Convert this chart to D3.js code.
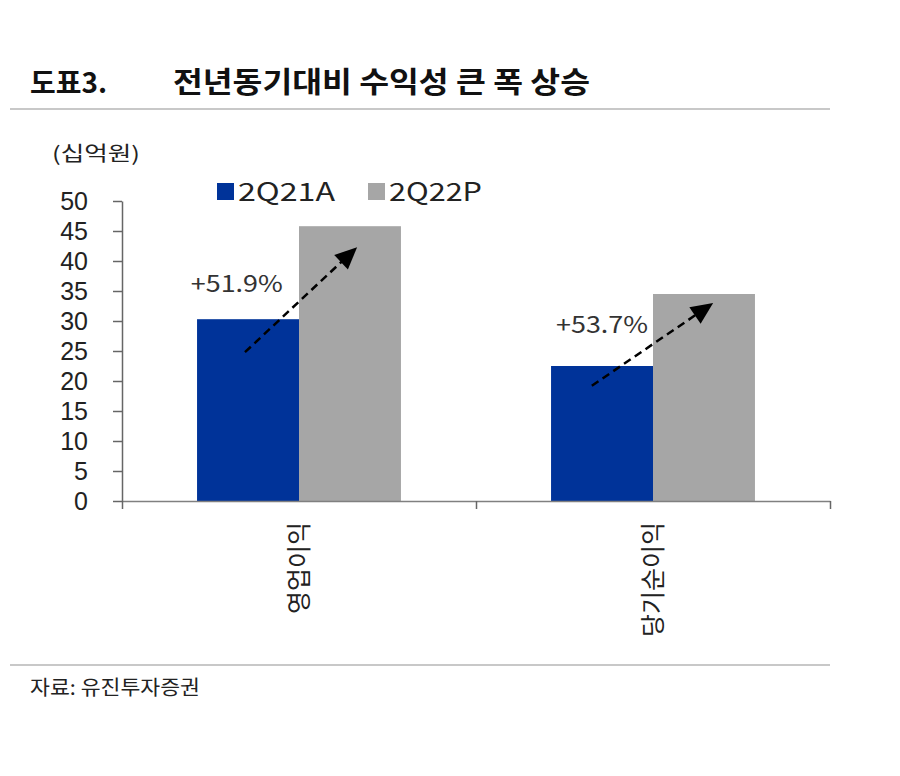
<!DOCTYPE html>
<html>
<head>
<meta charset="utf-8">
<script src="https://cdn.jsdelivr.net/npm/d3@7"></script>
<style>
  html, body { margin: 0; padding: 0; background: #fff; }
  svg { display: block; font-family: "Noto Sans CJK KR", "Noto Sans", sans-serif; }
</style>
</head>
<body>
<svg id="chart" width="900" height="776"></svg>
<script>
// ---- data ----
const categories = ["영업이익", "당기순이익"];
const seriesNames = ["2Q21A", "2Q22P"];
const values2Q21A = [30.3, 22.5];
const values2Q22P = [45.8, 34.5];
const yTicks = [0, 5, 10, 15, 20, 25, 30, 35, 40, 45, 50];
const growthLabels = ["+51.9%", "+53.7%"];
// arrow endpoints in data units: [start value, end value]
const arrowStartValues = [24.8, 19.2];
const arrowEndValues = [42.3, 33.0];
const labelValues = [34.8, 28.0];

const colors = { "2Q21A": "#003399", "2Q22P": "#a6a6a6" };

const svg = d3.select("#chart");

// ---- header ----
svg.append("text").attr("x", 30).attr("y", 93)
  .attr("font-size", 28).attr("font-weight", 700).attr("fill", "#111")
  .attr("textLength", 77).attr("lengthAdjust", "spacingAndGlyphs")
  .text("도표3.");
svg.append("text").attr("x", 173).attr("y", 93)
  .attr("font-size", 29).attr("font-weight", 700).attr("fill", "#111")
  .attr("textLength", 417).attr("lengthAdjust", "spacingAndGlyphs")
  .text("전년동기대비 수익성 큰 폭 상승");
svg.append("line").attr("x1", 10).attr("x2", 830).attr("y1", 109).attr("y2", 109)
  .attr("stroke", "#c8c8c8").attr("stroke-width", 2);

svg.append("text").attr("x", 52).attr("y", 161)
  .attr("font-size", 20).attr("fill", "#222")
  .attr("textLength", 88).attr("lengthAdjust", "spacingAndGlyphs")
  .text("(십억원)");

// ---- scales ----
const y = d3.scaleLinear().domain([0, 50]).range([501, 201]);
const x0 = d3.scaleBand().domain(categories).range([122, 830]).padding(0);
const bw = x0.bandwidth();
const x1 = d3.scaleBand().domain(seriesNames).range([bw * 0.212, bw * 0.788]).padding(0);
const xEdge = d3.scaleLinear().domain([0, categories.length]).range([122, 830]);

// ---- bars ----
const rows = categories.map((c, i) => ({ cat: c, vals: [values2Q21A[i], values2Q22P[i]] }));
const g = svg.append("g").selectAll("g").data(rows).join("g")
  .attr("transform", d => `translate(${x0(d.cat)},0)`);
g.selectAll("rect").data(d => seriesNames.map((s, j) => ({ s, v: d.vals[j] })))
  .join("rect")
  .attr("x", d => x1(d.s))
  .attr("width", x1.bandwidth())
  .attr("y", d => y(d.v))
  .attr("height", d => y(0) - y(d.v))
  .attr("fill", d => colors[d.s]);

// ---- axes ----
const yAxis = svg.append("g").attr("transform", "translate(122,0)")
  .call(d3.axisLeft(y).tickValues(yTicks).tickSize(9).tickSizeOuter(0).tickPadding(25));
yAxis.select(".domain").attr("stroke", "#666").attr("stroke-width", 1.5);
yAxis.selectAll(".tick line").attr("stroke", "#666").attr("stroke-width", 1.5);
yAxis.selectAll(".tick text").attr("font-size", 25).attr("fill", "#222")
  .attr("font-family", "'Liberation Sans', Arial, sans-serif");

const xAxis = svg.append("g").attr("transform", "translate(0,501)")
  .call(d3.axisBottom(xEdge).tickValues(d3.range(categories.length + 1)).tickFormat("").tickSize(8).tickSizeOuter(0));
xAxis.select(".domain").attr("stroke", "#808080").attr("stroke-width", 1.5);
xAxis.selectAll(".tick line").attr("stroke", "#666").attr("stroke-width", 1.5);

// category labels (rotated)
svg.append("g").selectAll("text").data(categories).join("text")
  .attr("transform", d => `translate(${x0(d) + bw / 2},522) rotate(-90)`)
  .attr("text-anchor", "end").attr("dy", "0.35em")
  .attr("font-size", 25).attr("fill", "#222")
  .text(d => d);

// ---- legend ----
const legendX = [217, 368];
const leg = svg.append("g").selectAll("g").data(seriesNames).join("g")
  .attr("transform", (d, i) => `translate(${legendX[i]},183)`);
leg.append("rect").attr("width", 17).attr("height", 17).attr("fill", d => colors[d]);
leg.append("text").attr("x", 21).attr("y", 18)
  .attr("font-size", 25).attr("fill", "#222")
  .attr("textLength", d => d === "2Q21A" ? 97 : 93).attr("lengthAdjust", "spacingAndGlyphs")
  .text(d => d);

// ---- arrows & growth labels ----
const startFrac = [0.47, 0.40];
const endFrac = [0.57, 0.59];
const ann = categories.map((c, i) => ({
  x1: x0(c) + x1("2Q21A") + x1.bandwidth() * startFrac[i],
  y1: y(arrowStartValues[i]),
  x2: x0(c) + x1("2Q22P") + x1.bandwidth() * endFrac[i],
  y2: y(arrowEndValues[i]),
  lx: x0(c) + x1("2Q21A") + x1.bandwidth() * [0.39, 0.5][i],
  ly: y(labelValues[i]),
  label: growthLabels[i]
}));

const arrowG = svg.append("g");
ann.forEach(a => {
  const dx = a.x2 - a.x1, dy = a.y2 - a.y1, L = Math.hypot(dx, dy);
  const hx = a.x2 - dx / L * 20, hy = a.y2 - dy / L * 20;
  arrowG.append("line")
    .attr("x1", a.x1).attr("y1", a.y1).attr("x2", hx).attr("y2", hy)
    .attr("stroke", "#000").attr("stroke-width", 2.5).attr("stroke-dasharray", "8,5");
  const ang = Math.atan2(dy, dx);
  const pts = [[0, 0], [-22, -10], [-22, 10]].map(([px, py]) => [
    a.x2 + px * Math.cos(ang) - py * Math.sin(ang),
    a.y2 + px * Math.sin(ang) + py * Math.cos(ang)
  ]);
  arrowG.append("path").attr("d", "M" + pts.map(p => p.join(",")).join("L") + "Z").attr("fill", "#000");
  arrowG.append("text").attr("x", a.lx).attr("y", a.ly)
    .attr("text-anchor", "middle").attr("font-size", 23).attr("fill", "#333")
    .attr("textLength", 92).attr("lengthAdjust", "spacingAndGlyphs")
    .text(a.label);
});

// ---- footer ----
svg.append("line").attr("x1", 10).attr("x2", 830).attr("y1", 665).attr("y2", 665)
  .attr("stroke", "#c8c8c8").attr("stroke-width", 2);
svg.append("text").attr("x", 30).attr("y", 695)
  .attr("font-size", 20).attr("fill", "#222")
  .attr("textLength", 170).attr("lengthAdjust", "spacingAndGlyphs")
  .text("자료: 유진투자증권");
</script>
</body>
</html>
